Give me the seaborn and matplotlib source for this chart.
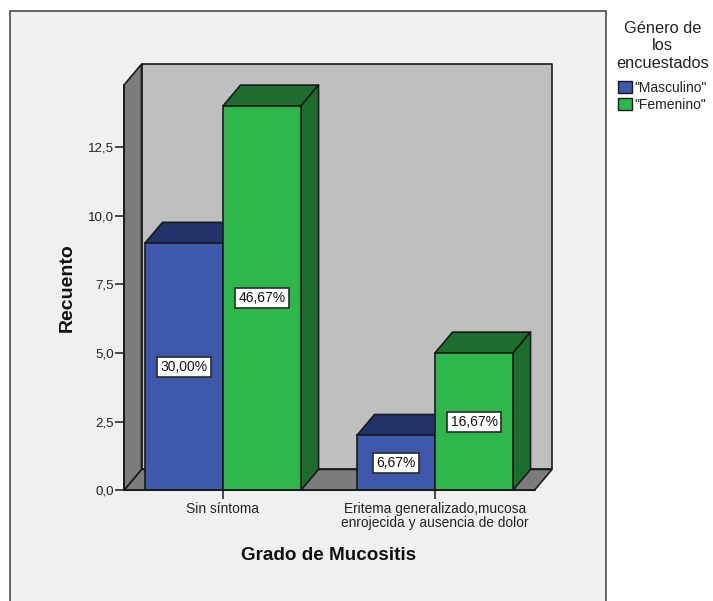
import matplotlib
matplotlib.use("Agg")
import matplotlib.pyplot as plt
from matplotlib.patches import Patch, Polygon, Rectangle
import pandas as pd
import seaborn as sns

categories = ["Sin síntoma", "Eritema generalizado,mucosa\nenrojecida y ausencia de dolor"]
genders = ['"Masculino"', '"Femenino"']
masculino = [9, 2]
femenino = [14, 5]
masculino_pct = ["30,00%", "6,67%"]
femenino_pct = ["46,67%", "16,67%"]
y_ticks = [0, 2.5, 5, 7.5, 10, 12.5]
y_tick_labels = ["0,0", "2,5", "5,0", "7,5", "10,0", "12,5"]

BLUE, BLUE_DARK = "#3e58ab", "#23346a"
GREEN, GREEN_DARK = "#2eb84c", "#1c6d2e"
WALL, SIDE, PANEL, INK = "#bfbfbf", "#7c7c7c", "#f0f0f0", "#1a1a1a"

sns.set_theme(style="white")
plt.rcParams["font.family"] = ["Liberation Sans", "DejaVu Sans"]

W, H = 713, 601
fig = plt.figure(figsize=(W / 100, H / 100), dpi=100, facecolor="white")

# Chart panel, open at the bottom edge
fig.add_artist(Rectangle((10 / W, -0.02), 596 / W, 1.02 - 10.5 / H, transform=fig.transFigure,
                         facecolor=PANEL, edgecolor="#5a5a5a", linewidth=1.3, zorder=-5))

# Front plane of the 3D box, in pixel placement
left, right, top, bottom = 124, 534.5, 85, 490.2
ax = fig.add_axes([left / W, 1 - bottom / H, (right - left) / W, (bottom - top) / H])
ax.patch.set_alpha(0)

df = pd.DataFrame({
    "categoria": categories * 2,
    "genero": [genders[0]] * 2 + [genders[1]] * 2,
    "recuento": masculino + femenino,
})
sns.barplot(data=df, x="categoria", y="recuento", hue="genero", order=categories,
            hue_order=genders, palette=[BLUE, GREEN], saturation=1, width=0.736, gap=0,
            edgecolor=INK, linewidth=1.2, legend=False, ax=ax, zorder=5)

px_per_cat = 212.0
px_per_unit = 27.45
ax.set_xlim((left - 223) / px_per_cat, (right - 223) / px_per_cat)
ax.set_ylim(0, (bottom - top) / px_per_unit)

# Depth offset of the box, in data units
ddx = 17.5 / px_per_cat
ddy = 20.8 / px_per_unit


def face(points, color, z):
    ax.add_patch(Polygon(points, closed=True, facecolor=color, edgecolor=INK,
                         linewidth=1.2, clip_on=False, zorder=z, joinstyle="round"))


x0, x1 = ax.get_xlim()
y1 = ax.get_ylim()[1]
face([(x0 + ddx, ddy), (x1 + ddx, ddy), (x1 + ddx, y1 + ddy), (x0 + ddx, y1 + ddy)], WALL, 1)
face([(x0, 0), (x0 + ddx, ddy), (x1 + ddx, ddy), (x1, 0)], SIDE, 1.5)
face([(x0, 0), (x0 + ddx, ddy), (x0 + ddx, y1 + ddy), (x0, y1)], SIDE, 1.5)

# Top and side faces of every bar, taken from the bars seaborn drew
for container, shade in zip(ax.containers, [BLUE_DARK, GREEN_DARK]):
    for bar in container:
        xa, w, h = bar.get_x(), bar.get_width(), bar.get_height()
        xb = xa + w
        face([(xa, h), (xa + ddx, h + ddy), (xb + ddx, h + ddy), (xb, h)], shade, 3)
        face([(xb, 0), (xb + ddx, ddy), (xb + ddx, h + ddy), (xb, h)], shade, 3)

# Percentage labels in the middle of each bar
for container, texts in zip(ax.containers, [masculino_pct, femenino_pct]):
    for bar, label in zip(container, texts):
        ax.text(bar.get_x() + bar.get_width() / 2, bar.get_height() / 2, label,
                ha="center", va="center", fontsize=10, color="#111111", zorder=8,
                bbox=dict(boxstyle="square,pad=0.22", facecolor="white",
                          edgecolor="#2a2a2a", linewidth=1.2))

ax.set_yticks(y_ticks, y_tick_labels)
ax.set_xticks(range(len(categories)), categories, linespacing=1.0)
ax.tick_params(axis="y", length=6.2, width=1.1, color=INK, labelsize=9.6, labelcolor="#222222",
               pad=1, left=True)
ax.tick_params(axis="x", length=6.5, width=1.1, color=INK, labelsize=9.9, labelcolor="#222222",
               pad=2, bottom=True)
for side in ("top", "right"):
    ax.spines[side].set_visible(False)
for side in ("left", "bottom"):
    ax.spines[side].set_visible(True)
    ax.spines[side].set_color(INK)
    ax.spines[side].set_linewidth(1.2)
    ax.spines[side].set_zorder(6)

ax.set_ylabel("Recuento", fontsize=14, fontweight="bold", color="#111111")
ax.set_xlabel("Grado de Mucositis", fontsize=13.6, fontweight="bold", color="#111111")
ax.yaxis.set_label_coords((67 - left) / (right - left), (bottom - 288) / (bottom - top))
ax.xaxis.set_label_coords((329 - left) / (right - left), (bottom - 555) / (bottom - top))
ax.xaxis.label.set_verticalalignment("center")
ax.yaxis.label.set_verticalalignment("center")

handles = [Patch(facecolor=BLUE, edgecolor=INK, linewidth=1.0, label=genders[0]),
           Patch(facecolor=GREEN, edgecolor=INK, linewidth=1.0, label=genders[1])]
legend = fig.legend(handles=handles, title="Género de\nlos\nencuestados", frameon=False,
                    loc="upper left", bbox_to_anchor=(616 / W, 1 - 21 / H),
                    fontsize=10, handlelength=1.0, handleheight=0.93, handletextpad=0.2,
                    labelspacing=0.22, borderpad=0, borderaxespad=0, alignment="center",
                    title_fontproperties={"size": 11.8})
legend._legend_box.sep = 7.3
legend.get_title().set_multialignment("center")
legend.get_title().set_linespacing(1.2)
legend.get_title().set_color("#222222")
for t in legend.get_texts():
    t.set_color("#222222")

fig.savefig("out.png", dpi=100, facecolor="white")
